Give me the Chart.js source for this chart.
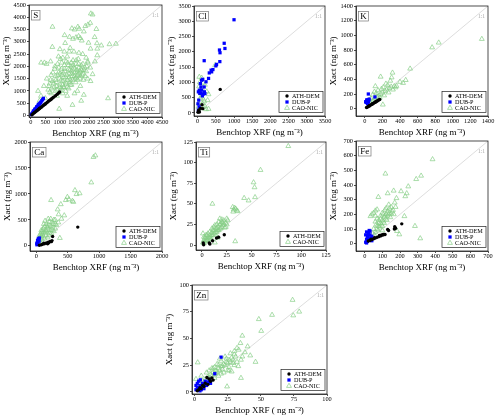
<!DOCTYPE html>
<html>
<head>
<meta charset="utf-8">
<script src="https://cdn.jsdelivr.net/npm/chart.js@4.4.0/dist/chart.umd.min.js"></script>
<style>
  html, body { margin: 0; padding: 0; background: #fff; }
  #wrap { position: relative; width: 500px; height: 420px; overflow: hidden; }
  #wrap canvas { position: absolute; }
</style>
</head>
<body>
<div id="wrap"></div>
<script>
// ---- data: [benchtop XRF, Xact] pairs, ng m-3 ----
const sAth = [[40,30],[80,75],[120,110],[150,140],[180,170],[200,190],[230,215],[260,245],[290,275],[320,305],[350,330],[380,360],[420,400],[450,430],[480,455],[520,495],[560,530],[600,570],[640,610],[680,645],[720,690],[760,725],[800,760],[850,810],[900,860],[950,905],[990,960],[300,290],[500,470],[700,660]];
const sDub = [[20,40],[40,70],[60,100],[80,130],[100,160],[110,190],[130,210],[150,240],[170,270],[190,300],[210,340],[230,360],[250,400],[270,430],[290,460],[310,490],[330,520],[350,550],[380,600],[410,650],[435,700],[90,180],[140,260],[200,350],[260,450],[120,150],[180,250]];
const sCao = [[2060,4150],[2120,4110],[745,3610],[1410,3545],[1500,3500],[1615,3610],[1660,3530],[1870,3640],[1960,3700],[2040,3770],[1330,3200],[1450,3120],[1550,3180],[1640,3230],[1700,3150],[1160,3270],[1980,2960],[2270,2940],[2700,2900],[2920,2920],[2190,3190],[2420,2850],[2250,3520],[1820,3420],[1750,3050],[2050,2720],[2280,2720],[2280,2450],[740,2790],[1000,2700],[1180,2950],[1320,2600],[355,2150],[470,2150],[540,2100],[680,2200],[1960,2150],[2040,1950],[2120,1680],[1820,840],[1430,430],[975,270],[2650,700],[1730,600],[600,1050],[650,1300],[700,1650],[750,1400],[800,1150],[820,1900],[850,1600],[880,1350],[900,1050],[920,2100],[950,1750],[980,1500],[1000,1250],[1020,2300],[1050,1900],[1080,1650],[1100,1400],[1120,1150],[1150,2050],[1170,1800],[1200,1550],[1220,1300],[1250,2400],[1270,2150],[1300,1900],[1320,1700],[1350,1450],[1380,2000],[1400,1800],[1420,1600],[1450,2250],[1470,1950],[1500,1750],[1520,1500],[1550,2100],[1580,1850],[1600,1650],[1630,2300],[1650,1950],[1680,1800],[1700,1600],[1730,2050],[1750,1850],[1780,2500],[1800,1700],[1850,1950],[1900,1800],[1950,2200],[1700,1200],[1600,1000],[1500,900],[1300,1100],[1100,900],[900,800],[700,900],[500,700],[450,1200],[550,1500],[350,800],[300,600],[250,1000],[1150,2600],[1350,2750],[1200,1000],[1950,1500],[2050,1400],[1250,800],[1400,1250],
  [620,1200],[680,1450],[720,1100],[760,1750],[790,1300],[830,2000],[860,1450],[890,1200],[930,1650],[960,1950],[990,1150],[1010,1700],[1040,1450],[1060,2150],[1090,1250],[1110,1750],[1130,1550],[1160,1900],[1190,1350],[1210,2200],[1240,1650],[1260,1450],[1290,2050],[1310,1550],[1340,1850],[1360,1250],[1390,2150],[1410,1700],[1440,1450],[1460,2050],[1490,1600],[1510,1900],[1540,1350],[1560,2250],[1590,1750],[1610,1450],[1640,2100],[1660,1700],[1690,1500],[1720,1900],[1760,1650],[1790,2100],[1820,1850],[1870,1600],[1920,2000],[1000,1000],[1150,1150],[1350,1350],[1550,1550],[1800,1450],[650,950],[850,1000],[1050,1100],[1250,1150],[950,2400],[1100,2350],[1480,2600],[1650,2550],[1900,2350],[2200,2200]];

const clAth = [[620,770],[120,270],[140,140],[20,60],[30,90],[10,20],[50,30],[80,150]];
const clDub = [[1000,3050],[730,2280],[750,2110],[600,2060],[615,1970],[180,1710],[610,1680],[500,1540],[520,1590],[420,1420],[370,1400],[385,1345],[320,1310],[300,1130],[140,1100],[110,1070],[75,960],[230,1020],[180,850],[90,850],[45,745],[110,750],[20,690],[90,655],[185,690],[200,635],[30,420],[40,200],[20,90],[60,640],[130,560],[160,620],[10,300]];
const clCao = [[45,1180],[110,1150],[200,920],[150,980],[480,1565],[90,635],[275,415],[300,610],[160,440],[70,470],[30,320],[135,305],[200,220],[150,180],[70,150],[100,540],[180,380],[40,870],[250,700],[20,200],[230,120],[130,780],[60,1000],[300,130]];

const kAth = [[20,15],[30,22],[40,30],[50,38],[60,45],[70,52],[80,60],[90,68],[100,75],[110,82],[120,90],[130,98],[140,105],[150,112],[160,120],[170,125],[55,40],[85,65],[125,92]];
const kDub = [[20,100],[30,110],[25,90],[35,120],[15,85],[40,95],[28,105],[10,95],[45,110],[22,120],[38,80],[30,70],[40,200],[115,160],[50,130]];
const kCao = [[1330,950],[840,900],[765,835],[515,545],[180,435],[315,490],[305,425],[465,390],[435,350],[400,365],[335,305],[300,300],[280,280],[250,260],[230,240],[210,290],[200,220],[180,200],[160,180],[140,160],[120,140],[100,120],[90,190],[80,100],[60,80],[150,250],[260,320],[350,290],[205,55],[120,305],[170,150],[220,180],[270,220],[320,260],[240,340],[190,270],[110,230],[130,210],[360,310],[290,380],[70,140],[50,120]];

const caAth = [[660,360],[260,180],[50,10],[80,20],[100,30],[130,40],[160,55],[190,70],[220,85],[250,100],[120,50],[180,40],[200,60],[240,80]];
const caDub = [[10,20],[15,40],[20,60],[25,80],[30,100],[35,120],[40,140],[20,100],[30,130],[45,90],[10,50],[25,30],[50,150]];
const caCao = [[910,1710],[940,1740],[875,1220],[615,1070],[690,1010],[640,995],[495,940],[520,895],[575,865],[590,845],[470,880],[235,880],[390,800],[340,700],[355,605],[445,585],[375,150],[300,500],[250,450],[200,400],[180,350],[150,300],[120,260],[100,220],[80,180],[60,150],[220,300],[260,350],[280,280],[320,400],[160,420],[140,250],[110,330],[90,270],[70,230],[200,200],[240,240],[180,160],[130,140],[50,100],[300,330],[350,450],[400,520],[230,520],[210,460],
  [30,60],[40,120],[60,80],[70,200],[90,120],[100,300],[110,180],[130,370],[150,200],[160,280],[170,380],[190,300],[210,250],[230,380],[250,300],[270,420],[120,420],[80,300],[50,200],[140,480],[280,500],[190,520],[300,420]];

const tiAth = [[22.5,12.5],[14.7,8.6],[16.8,9.5],[10.7,5.3],[7.4,2.5],[8,1.2],[1.3,2.5],[1.7,0.4]];
const tiCao = [[87,120],[59,91],[52,76],[53,70],[42.5,57],[47,54],[53.5,58],[10.5,50],[31,46],[32,43],[33,45],[35,42],[36,41],[31.5,40.5],[34,44],[33.5,4.5],[25,32],[22,30],[20,28],[18,25],[16,22],[14,20],[12,18],[10,15],[8,12],[6,10],[4,8],[2,6],[1,3],[24,27],[21,24],[19,20],[17,18],[15,16],[13,14],[11,12],[9,10],[7,8],[5,6],[3,4],[1,14],[2,10],[20,31],[23,21],[25,25],[15,25],[12,22],[18,32],[10,20],[5,12],[3,9],[8,16],[16,9],[13,3],
  [2,2],[4,5],[6,6],[8,9],[10,12],[12,14],[14,16],[16,18],[18,20],[20,22],[22,25],[24,22],[26,30],[4,12],[6,14],[9,7],[11,18],[13,24],[15,20],[19,26],[21,27],[17,28]];

const feAth = [[210,135],[170,115],[175,105],[168,100],[130,97],[135,90],[20,18],[30,22],[40,28],[50,33],[60,38],[70,43],[80,48],[90,53],[100,58],[110,63],[115,63],[83,56],[95,60],[105,62],[35,30],[55,40]];
const feDub = [[5,10],[10,30],[15,50],[20,70],[25,90],[10,80],[30,60],[35,40],[40,20],[20,40],[15,15],[25,25],[5,60],[30,85],[40,50],[10,5]];
const feCao = [[385,575],[117,477],[320,463],[292,440],[247,390],[206,357],[164,361],[130,343],[77,318],[238,343],[230,323],[180,310],[32,187],[40,200],[50,210],[60,225],[70,233],[136,266],[170,280],[225,187],[285,120],[315,36],[196,63],[183,86],[60,80],[70,100],[80,120],[90,140],[100,160],[110,180],[120,200],[130,220],[140,240],[150,205],[160,230],[90,190],[100,120],[110,140],[120,170],[80,160],[65,130],[55,60],[75,90],[85,110],[130,190],[140,210],[150,250],[105,200],[115,230],[45,70],[100,90],
  [50,100],[60,150],[70,170],[80,140],[90,170],[95,130],[105,150],[115,190],[125,160],[135,200],[145,180],[155,220],[165,200],[175,250],[100,210],[120,240],[60,190],[70,120]];

const znAth = [[13,13],[9.3,13.4],[12,10],[8,8],[10,7],[6,6],[4,4],[3,2],[5,3],[7,5],[14,11],[11,12],[2,1]];
const znDub = [[20,32.5],[15.2,17],[4.3,11.3],[1,2],[2,4],[3,3],[4,6],[5,5],[6,8],[7,7],[8,10],[9,6],[10,9],[11,11],[12,8],[2,8],[3,10],[5,2],[6,4],[1,6],[7,3],[4,1]];
const znCao = [[74,86],[74.5,71.5],[79,75],[58.5,72],[48.5,68],[50.3,57],[36,52.5],[34.6,45.6],[40,42.5],[32,41],[33.3,39.4],[46,28],[2.3,27.5],[35,13],[24.5,5],[30,35],[28,32],[26,30],[24,28],[22,26],[20,24],[18,22],[16,20],[14,18],[12,16],[10,14],[8,12],[6,10],[4,8],[25,20],[22,18],[20,17],[18,15],[15,13],[12,11],[30,25],[35,30],[27,36],[23,33],[20,29],[17,26],[33,24],[28,19],[38,37],[1,12],[5,15],[9,18],[13,22],[19,31],[42,34],[29,27],[21,21],[26,23],[32,28],[15,23],[11,20],
  [3,5],[5,7],[7,9],[9,11],[11,13],[13,15],[15,17],[17,19],[19,20],[21,24],[23,25],[25,27],[27,28],[29,30],[31,33],[14,22],[16,17],[18,25],[24,31],[26,20],[30,38],[36,33]];

const seriesNames = ['ATH-DEM', 'DUB-P', 'CAO-NIC'];

// tick labels shared by both axes of each panel
const sTicks  = [0, 500, 1000, 1500, 2000, 2500, 3000, 3500, 4000, 4500];
const clTicks = [0, 500, 1000, 1500, 2000, 2500, 3000, 3500];
const kTicks  = [0, 200, 400, 600, 800, 1000, 1200, 1400];
const caTicks = [0, 500, 1000, 1500, 2000];
const tiTicks = [0, 25, 50, 75, 100, 125];
const feTicks = [0, 100, 200, 300, 400, 500, 600, 700];
const znTicks = [0, 25, 50, 75, 100];

// ---- layout: plot-area rectangle of each panel, in page pixels ----
const PAD_L = 30, PAD_T = 6, PAD_R = 10, PAD_B = 25;
const FONT = 'Liberation Serif';
const GREEN = '#86cf86';

const panels = [
  { name: 'S',  sets: [sAth, sDub, sCao],    ticks: sTicks,  min: -60,  l: 29,  t: 5,   w: 133, h: 112 },
  { name: 'Cl', sets: [clAth, clDub, clCao], ticks: clTicks, min: -100, l: 194, t: 6,   w: 131, h: 110 },
  { name: 'K',  sets: [kAth, kDub, kCao],    ticks: kTicks,  min: -100, l: 356, t: 6,   w: 132, h: 110 },
  { name: 'Ca', sets: [caAth, caDub, caCao], ticks: caTicks, min: -100, l: 30,  t: 142, w: 132, h: 109 },
  { name: 'Ti', sets: [tiAth, null, tiCao],  ticks: tiTicks, min: -6,   l: 196, t: 142, w: 130, h: 108 },
  { name: 'Fe', sets: [feAth, feDub, feCao], ticks: feTicks, min: -50,  l: 356, t: 141, w: 132, h: 110 },
  { name: 'Zn', sets: [znAth, znDub, znCao], ticks: znTicks, min: -2,   l: 192, t: 285, w: 135, h: 109, spaced: true }
];

const styles = [
  { pointStyle: 'circle',   pointRadius: 1.7, backgroundColor: '#000',    borderColor: '#000',    borderWidth: 0 },
  { pointStyle: 'rect',     pointRadius: 2.3, backgroundColor: '#0000ff', borderColor: '#0000ff', borderWidth: 0 },
  { pointStyle: 'triangle', pointRadius: 2.8, backgroundColor: 'rgba(0,0,0,0)', borderColor: GREEN, borderWidth: 0.7 }
];

const toPts = arr => arr.map(([x, y]) => ({ x, y }));

// frame, panel tag, 1:1 tag and the boxed legend
const decor = {
  id: 'decor',
  afterDraw(chart, args, opts) {
    const { ctx, chartArea: a } = chart;
    ctx.save();
    ctx.strokeStyle = '#222';
    ctx.lineWidth = 0.8;
    ctx.strokeRect(a.left, a.top, a.right - a.left, a.bottom - a.top);

    // element tag
    ctx.font = `9px "${FONT}"`;
    const tw = ctx.measureText(opts.label).width;
    ctx.strokeStyle = '#777';
    ctx.lineWidth = 0.7;
    ctx.strokeRect(a.left + 2.5, a.top + 5.5, tw + 3.5, 9.5);
    ctx.fillStyle = '#000';
    ctx.textBaseline = 'middle';
    ctx.textAlign = 'left';
    ctx.fillText(opts.label, a.left + 4.3, a.top + 10.5);

    // 1:1
    ctx.font = `5.5px "${FONT}"`;
    ctx.fillStyle = '#aaa';
    ctx.textAlign = 'right';
    ctx.fillText('1:1', a.right - 3, a.top + 11);

    // legend
    const items = chart.data.datasets.filter(d => !d.isRef);
    const rowH = 6, bw = 44, bh = items.length * rowH + 3;
    const bx = a.right - 2 - bw, by = a.bottom - 3.5 - bh;
    ctx.fillStyle = '#fff';
    ctx.fillRect(bx, by, bw, bh);
    ctx.strokeStyle = '#222';
    ctx.lineWidth = 0.7;
    ctx.strokeRect(bx, by, bw, bh);
    ctx.font = `6.2px "${FONT}"`;
    ctx.textAlign = 'left';
    items.forEach((d, i) => {
      const cy = by + 1.5 + rowH * (i + 0.5);
      const mx = bx + 8;
      ctx.fillStyle = d.backgroundColor;
      ctx.strokeStyle = d.borderColor;
      ctx.lineWidth = d.borderWidth || 0.01;
      ctx.beginPath();
      if (d.pointStyle === 'circle') {
        ctx.arc(mx, cy, d.pointRadius, 0, Math.PI * 2);
        ctx.fill();
      } else if (d.pointStyle === 'rect') {
        const s = d.pointRadius * Math.SQRT1_2;
        ctx.fillRect(mx - s, cy - s, 2 * s, 2 * s);
      } else {
        const r = d.pointRadius;
        ctx.moveTo(mx, cy - r);
        ctx.lineTo(mx + r * 0.866, cy + r * 0.5);
        ctx.lineTo(mx - r * 0.866, cy + r * 0.5);
        ctx.closePath();
        ctx.stroke();
      }
      ctx.fillStyle = '#000';
      ctx.fillText(d.label, bx + 13, cy + 0.3);
    });
    ctx.restore();
  }
};

function axis(p, isX) {
  const unit = p.spaced ? '( ng m\u207B\u00B3)' : '(ng m\u207B\u00B3)';
  const max = p.ticks[p.ticks.length - 1];
  return {
    type: 'linear',
    min: p.min,
    max: max,
    border: { display: true, color: '#222', width: 0.8 },
    grid: { display: true, drawOnChartArea: false, drawTicks: true, tickLength: 2, color: '#222', lineWidth: 0.8 },
    afterBuildTicks: s => { s.ticks = p.ticks.map(v => ({ value: v })); },
    ticks: {
      autoSkip: false,
      maxRotation: 0,
      padding: isX ? 0 : 1,
      color: '#000',
      font: { family: FONT, size: 6.3 },
      callback: v => String(v)
    },
    title: {
      display: true,
      text: isX ? 'Benchtop XRF ' + unit : 'Xact ' + unit,
      color: '#000',
      font: { family: FONT, size: 9 },
      padding: isX ? { top: 0, bottom: 3 } : { top: 2, bottom: 0 }
    },
    afterFit: s => { if (isX) s.height = PAD_B; else s.width = PAD_L; }
  };
}

const wrap = document.getElementById('wrap');

panels.forEach(p => {
  const cv = document.createElement('canvas');
  const W = p.w + PAD_L + PAD_R, H = p.h + PAD_T + PAD_B;
  cv.width = W;
  cv.height = H;
  cv.style.width = W + 'px';
  cv.style.height = H + 'px';
  cv.style.left = (p.l - PAD_L) + 'px';
  cv.style.top = (p.t - PAD_T) + 'px';
  wrap.appendChild(cv);

  const max = p.ticks[p.ticks.length - 1];
  const datasets = [];
  p.sets.forEach((set, i) => {
    if (!set) return;
    datasets.push(Object.assign({ label: seriesNames[i], data: toPts(set), order: i + 1 }, styles[i]));
  });
  datasets.push({
    type: 'line', label: '1:1', isRef: true,
    data: [{ x: 0, y: 0 }, { x: max, y: max }],
    borderColor: '#d4d4d4', borderWidth: 0.8, pointRadius: 0, order: 9
  });

  new Chart(cv, {
    type: 'scatter',
    data: { datasets },
    options: {
      responsive: false,
      animation: false,
      events: [],
      layout: { padding: { top: PAD_T, right: PAD_R, left: 0, bottom: 0 } },
      plugins: {
        legend: { display: false },
        tooltip: { enabled: false },
        decor: { label: p.name }
      },
      scales: { x: axis(p, true), y: axis(p, false) }
    },
    plugins: [decor]
  });
});
</script>
</body>
</html>
